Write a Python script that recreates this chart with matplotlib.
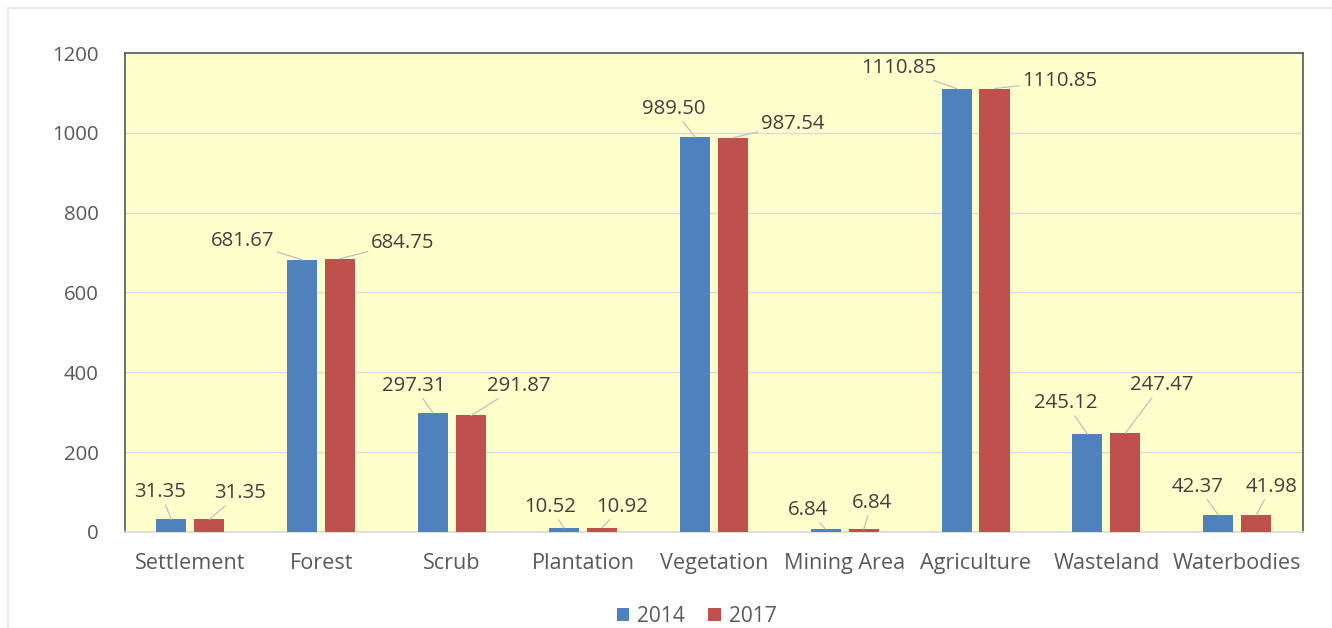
import matplotlib.pyplot as plt
import numpy as np
from matplotlib.patches import Rectangle

# Land-use area, 2014 vs 2017
categories = ['Settlement', 'Forest', 'Scrub', 'Plantation', 'Vegetation',
              'Mining Area', 'Agriculture', 'Wasteland', 'Waterbodies']
area_2014 = [31.35, 681.67, 297.31, 10.52, 989.50, 6.84, 1110.85, 245.12, 42.37]
area_2017 = [31.35, 684.75, 291.87, 10.92, 987.54, 6.84, 1110.85, 247.47, 41.98]
labels_2014 = ['31.35', '681.67', '297.31', '10.52', '989.50', '6.84', '1110.85', '245.12', '42.37']
labels_2017 = ['31.35', '684.75', '291.87', '10.92', '987.54', '6.84', '1110.85', '247.47', '41.98']
y_ticks = [0, 200, 400, 600, 800, 1000, 1200]

# where the data labels were dragged to (x offset from category, y in data units)
lab14_dx = [-0.23, -0.60, -0.29, -0.25, -0.31, -0.28, -0.59, -0.31, -0.30]
lab14_y = [100, 729, 366, 63, 1060, 55, 1163, 323, 113]
lab17_dx = [0.38, 0.62, 0.51, 0.30, 0.60, 0.21, 0.64, 0.42, 0.26]
lab17_y = [98, 724, 366, 63, 1023, 73, 1130, 368, 113]

BLUE = '#4F81BD'
RED = '#C0504D'
TXT = '#595959'

plt.rcParams['font.family'] = ['Open Sans', 'DejaVu Sans']

fig = plt.figure(figsize=(13.32, 6.28), dpi=100)
ax = fig.add_axes([0.0938, 0.1529, 0.8842, 0.7627])

# faint outer chart border
fig.add_artist(Rectangle((0.006, -0.1), 1.2, 1.087, transform=fig.transFigure,
                         fill=False, ec='#E3E8F0', lw=1.2))

x = np.arange(len(categories))
w = 0.23
off = 0.145
ax.bar(x - off, area_2014, w, color=BLUE, label='2014', zorder=3)
ax.bar(x + off, area_2017, w, color=RED, label='2017', zorder=3)

for i in range(len(categories)):
    for dx, ly, val, txt, sgn in ((lab14_dx[i], lab14_y[i], area_2014[i], labels_2014[i], -1),
                                  (lab17_dx[i], lab17_y[i], area_2017[i], labels_2017[i], 1)):
        ax.annotate(txt, xy=(x[i] + sgn * off, val), xytext=(x[i] + dx, ly),
                    ha='center', va='center', fontsize=14.7, color='#404040', zorder=4,
                    arrowprops=dict(arrowstyle='-', color='#BFBFBF', lw=0.9,
                                    shrinkA=0, shrinkB=0))

ax.set_xlim(-0.5, len(categories) - 0.5)
ax.set_ylim(0, 1200)
ax.set_yticks(y_ticks)
ax.set_xticks(x)
ax.set_xticklabels(categories)
ax.set_facecolor('#FFFFCC')
ax.grid(axis='y', color='#D9D9E3', lw=1, zorder=0)
ax.tick_params(length=0, labelcolor=TXT)
ax.tick_params(axis='y', pad=19, labelsize=14.7)
ax.tick_params(axis='x', pad=15, labelsize=15.6)
for s in ('left', 'top', 'right'):
    ax.spines[s].set_color('#595959')
    ax.spines[s].set_linewidth(1.2)
ax.spines['bottom'].set_color('#D9D9D9')
ax.spines['bottom'].set_linewidth(1.2)

leg = fig.legend(loc='center', bbox_to_anchor=(0.523, 0.019), ncol=2, frameon=False,
                 fontsize=15, handlelength=0.6, handleheight=0.6, handletextpad=0.4,
                 columnspacing=1.1)
for t in leg.get_texts():
    t.set_color(TXT)

fig.savefig('out.png', dpi=100)
